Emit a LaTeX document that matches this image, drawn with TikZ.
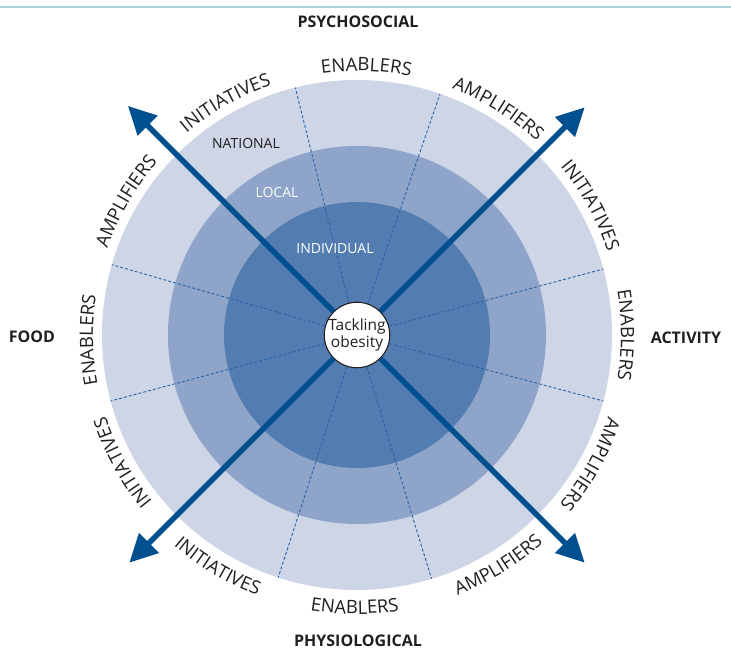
\documentclass[tikz,border=0pt]{standalone}
\usepackage{fontspec}
\setmainfont{Open Sans}
\usetikzlibrary{arrows.meta,decorations.text,calc}
\definecolor{ringA}{HTML}{CDD5E6}
\definecolor{ringB}{HTML}{8EA4C9}
\definecolor{ringC}{HTML}{537DB1}
\definecolor{arrowblue}{HTML}{00508F}
\definecolor{dashblue}{HTML}{2563A8}
\definecolor{ink}{HTML}{231F20}
\definecolor{rulecol}{HTML}{A9D2D6}
\newcommand{\ringfont}{\fontsize{18.5}{18.5}\selectfont}
\newcommand{\cwlabel}[2]{%
  \pgfmathsetmacro{\sa}{#1+24}\pgfmathsetmacro{\ea}{#1-24}%
  \path[shift={(C)}, decorate, decoration={text along path, text={|\ringfont|#2}, text align=center, text color=ink}]
    (\sa:264) arc[start angle=\sa, end angle=\ea, radius=264];}
\newcommand{\ccwlabel}[2]{%
  \pgfmathsetmacro{\sa}{#1-24}\pgfmathsetmacro{\ea}{#1+24}%
  \path[shift={(C)}, decorate, decoration={text along path, text={|\ringfont|#2}, text align=center, text color=ink}]
    (\sa:279) arc[start angle=\sa, end angle=\ea, radius=279];}
\begin{document}
\begin{tikzpicture}[x=1pt,y=1pt,
  axisarrow/.style={line width=5.5pt, draw=arrowblue, -{Triangle[length=28pt,width=27pt]}},
  sector/.style={draw=dashblue, line width=0.9pt, dash pattern=on 3pt off 2pt},
  title/.style={font=\bfseries\fontsize{16}{18}\selectfont, text=ink, inner sep=0pt},
  level/.style={font=\fontsize{14}{16}\selectfont, inner sep=0pt},
  core/.style={circle, draw=ink, line width=1.1pt, fill=white, minimum size=65pt, inner sep=0pt, align=center, font=\fontsize{15.5}{15}\selectfont, text=ink}]
\useasboundingbox (0,0) rectangle (731,650);
\fill[white] (0,0) rectangle (731,650);
\coordinate (C) at (357,315);
\coordinate (ruleL) at (0,642.5);
\coordinate (ruleR) at (731,642.5);
\draw[rulecol, line width=2pt] (ruleL) -- (ruleR);
% rings
\fill[ringA] (C) circle[radius=255];
\fill[ringB] (C) circle[radius=189];
\fill[ringC] (C) circle[radius=133];
% core
\node[core] (core) at (C) {Tackling\\obesity};
% sector dividers
\foreach \ang [count=\i] in {104,71,15,-15,-73,-108,195,164}{
  \coordinate (rim\i) at ($(C)+(\ang:255)$);
  \draw[sector] (core) -- (rim\i);
}
% axis arrows
\coordinate (tipNE) at ($(C)+(45:322)$);
\coordinate (tipNW) at ($(C)+(135:324)$);
\coordinate (tipSW) at ($(C)+(225:322)$);
\coordinate (tipSE) at ($(C)+(315:322)$);
\draw[axisarrow] (core) -- (tipNE);
\draw[axisarrow] (core) -- (tipNW);
\draw[axisarrow] (core) -- (tipSW);
\draw[axisarrow] (core) -- (tipSE);
% level labels
\node[level, text=ink] (national) at (246,506) {NATIONAL};
\node[level, text=white] (local) at (277,457) {LOCAL};
\node[level, text=white] (individual) at (335,401) {INDIVIDUAL};
% titles
\node[title] (psycho) at (358,628) {PSYCHOSOCIAL};
\node[title] (food) at (32,313) {FOOD};
\node[title] (activity) at (686,312) {ACTIVITY};
\node[title] (physio) at (358,9) {PHYSIOLOGICAL};
% ring labels
\cwlabel{88}{ENABLERS}
\cwlabel{119.5}{INITIATIVES}
\cwlabel{58}{AMPLIFIERS}
\cwlabel{29}{INITIATIVES}
\cwlabel{0}{ENABLERS}
\cwlabel{-29}{AMPLIFIERS}
\cwlabel{208.5}{INITIATIVES}
\cwlabel{181}{ENABLERS}
\cwlabel{150}{AMPLIFIERS}
\ccwlabel{-58.5}{AMPLIFIERS}
\ccwlabel{-90.5}{ENABLERS}
\ccwlabel{-121}{INITIATIVES}
\end{tikzpicture}
\end{document}
